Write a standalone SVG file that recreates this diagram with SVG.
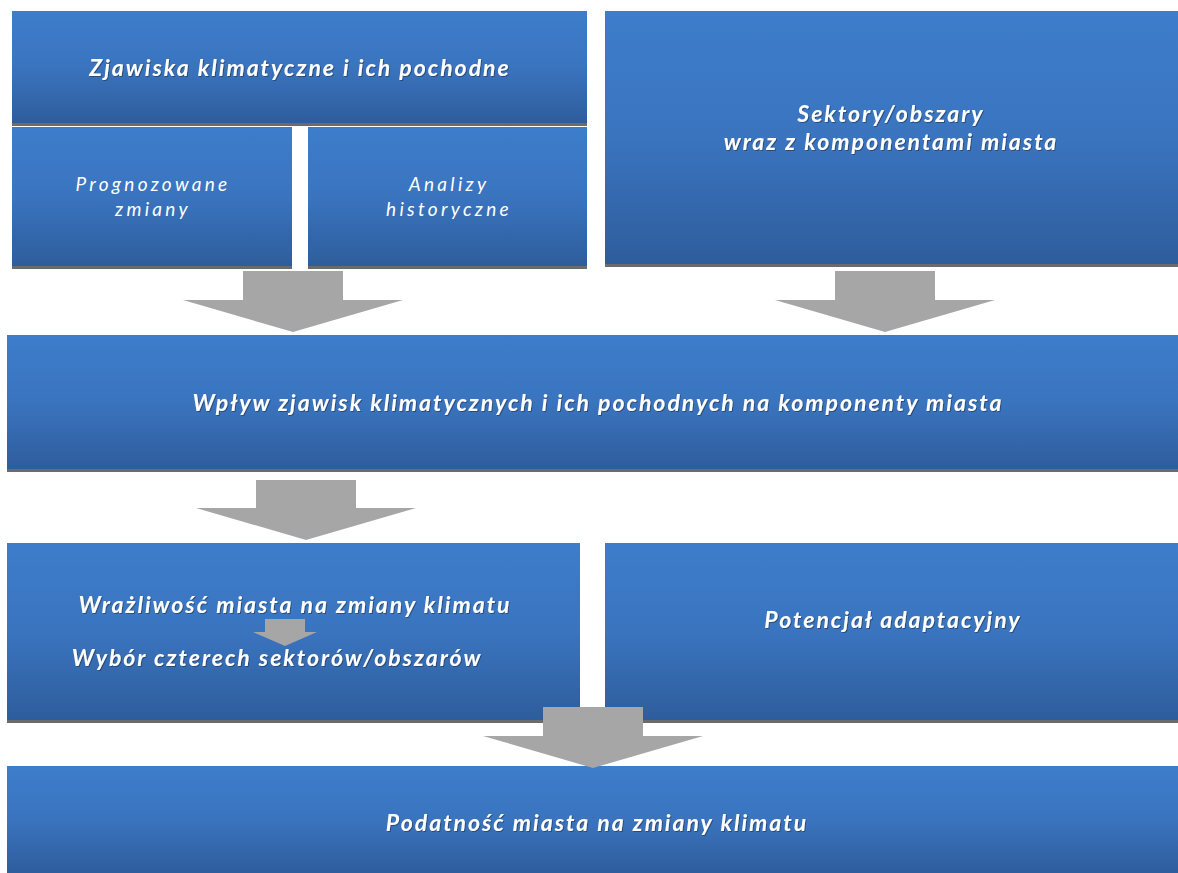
<svg xmlns="http://www.w3.org/2000/svg" width="1178" height="873" viewBox="0 0 1178 873">
<defs>
<linearGradient id="g" x1="0" y1="0" x2="0" y2="1">
<stop offset="0" stop-color="#3d7dcb"/>
<stop offset="0.5" stop-color="#3a74bf"/>
<stop offset="1" stop-color="#2e5d9c"/>
</linearGradient>
<filter id="ts" x="-5%" y="-20%" width="110%" height="140%">
<feDropShadow dx="1" dy="1" stdDeviation="0.6" flood-color="#1a3050" flood-opacity="0.6"/>
</filter>
</defs>
<style>
.box{fill:url(#g)}
.edge{fill:#6b6b6b}
.arrow{fill:#a6a6a6}
.t{font-family:Lato,"Liberation Sans",sans-serif;font-style:italic;font-weight:bold;fill:#ffffff;text-anchor:middle;filter:url(#ts);font-size:23px;letter-spacing:2px}
.tl{font-family:Lato,"Liberation Sans",sans-serif;font-style:italic;font-weight:normal;fill:#ffffff;text-anchor:middle;font-size:19px;letter-spacing:3.3px}
</style>
<rect width="1178" height="873" fill="#ffffff"/>
<g id="n-zjawiska">
<rect class="box" x="12" y="11" width="575" height="112"/>
<rect class="edge" x="12" y="123" width="575" height="3"/>
<text class="t" x="300" y="76">Zjawiska klimatyczne i ich pochodne</text>
</g>
<g id="n-prognozowane">
<rect class="box" x="12" y="127" width="280" height="139"/>
<rect class="edge" x="12" y="266" width="280" height="3"/>
<text class="tl" x="153" y="191">Prognozowane</text>
<text class="tl" x="153" y="216">zmiany</text>
</g>
<g id="n-analizy">
<rect class="box" x="308" y="127" width="279" height="139"/>
<rect class="edge" x="308" y="266" width="279" height="3"/>
<text class="tl" x="449" y="191">Analizy</text>
<text class="tl" x="449" y="216">historyczne</text>
</g>
<g id="n-sektory">
<rect class="box" x="605" y="11" width="573" height="253"/>
<rect class="edge" x="605" y="264" width="573" height="3"/>
<text class="t" x="891" y="122">Sektory/obszary</text>
<text class="t" x="891" y="150">wraz z komponentami miasta</text>
</g>
<g id="n-wplyw">
<rect class="box" x="7" y="335" width="1171" height="134"/>
<rect class="edge" x="7" y="469" width="1171" height="3"/>
<text class="t" x="598" y="411" letter-spacing="2.2">Wpływ zjawisk klimatycznych i ich pochodnych na komponenty miasta</text>
</g>
<g id="n-wrazliwosc">
<rect class="box" x="7" y="543" width="573" height="177"/>
<rect class="edge" x="7" y="720" width="573" height="3"/>
<text class="t" x="295" y="613">Wrażliwość miasta na zmiany klimatu</text>
<text class="t" x="277" y="666">Wybór czterech sektorów/obszarów</text>
</g>
<g id="n-potencjal">
<rect class="box" x="605" y="543" width="573" height="177"/>
<rect class="edge" x="605" y="720" width="573" height="3"/>
<text class="t" x="893" y="628">Potencjał adaptacyjny</text>
</g>
<g id="n-podatnosc">
<rect class="box" x="7" y="766" width="1171" height="107"/>
<text class="t" x="597" y="831">Podatność miasta na zmiany klimatu</text>
</g>
<g id="connectors">
<polygon class="arrow" points="243,271 343,271 343,300 403,300 293,332 183,300 243,300"/>
<polygon class="arrow" points="835,271 935,271 935,300 995,300 885,332 775,300 835,300"/>
<polygon class="arrow" points="256,480 356,480 356,508 416,508 306,540 196,508 256,508"/>
<polygon class="arrow" points="265,619 305,619 305,632 317,632 285,646 253,632 265,632"/>
<polygon class="arrow" points="543,707 643,707 643,736 703,736 593,768 483,736 543,736"/>
</g>
</svg>
